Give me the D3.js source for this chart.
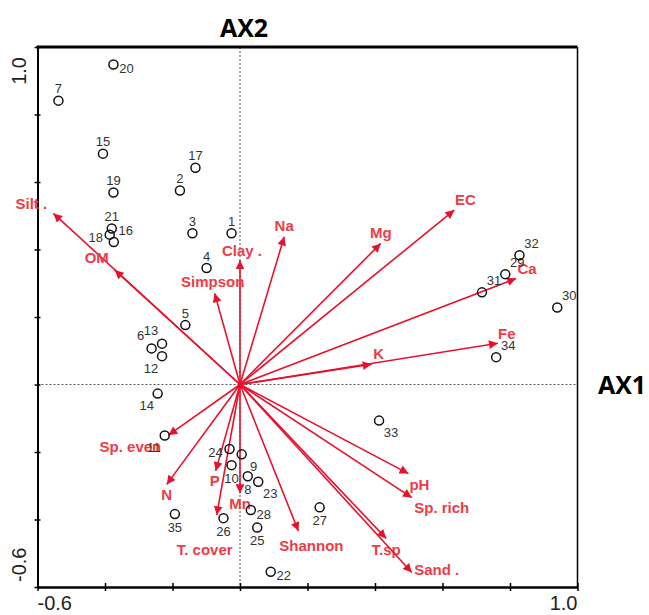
<!DOCTYPE html>
<html>
<head>
<meta charset="utf-8">
<script src="https://cdnjs.cloudflare.com/ajax/libs/d3/7.8.5/d3.min.js"></script>
<style>
  body { margin: 0; background: #fff; }
  .site circle { fill: none; stroke: #111; stroke-width: 1.5px; }
  .site text { font: 13px "Liberation Sans", Arial, sans-serif; fill: #333; }
  .vec line { stroke: #e8112d; stroke-width: 1.6px; }
  .vec text { font: bold 15px "Liberation Sans", Arial, sans-serif; fill: #ee3b45; }
  .zero { stroke: #555; stroke-width: 1px; stroke-dasharray: 2,2; }
  .ticklab { font: 20px "Liberation Sans", Arial, sans-serif; fill: #222; }
  .axtitle { font: bold 25px "Open Sans", "Liberation Sans", sans-serif; fill: #000; }
</style>
</head>
<body>
<script>
// site scores (AX1, AX2)
var siteIds = d3.range(1, 36);
var siteAx1 = [-0.025, -0.178, -0.141, -0.099, -0.162, -0.262, -0.538, 0.023, 0.005, -0.025,
               -0.223, -0.231, -0.231, -0.244, -0.406, -0.374, -0.132, -0.386, -0.375, -0.375,
               -0.380, 0.091, 0.054, -0.031, 0.051, -0.049, 0.236, 0.032, 0.786, 0.940,
               0.717, 0.828, 0.412, 0.759, -0.193];
var siteAx2 = [0.448, 0.575, 0.448, 0.345, 0.176, 0.107, 0.841, -0.272, -0.207, -0.239,
               -0.151, 0.084, 0.121, -0.027, 0.684, 0.422, 0.642, 0.444, 0.569, 0.948,
               0.462, -0.555, -0.288, -0.191, -0.424, -0.396, -0.364, -0.372, 0.327, 0.228,
               0.273, 0.383, -0.107, 0.081, -0.384];

// environmental / diversity variables (arrow tips)
var varNames = ["Silt .", "OM", "Clay .", "Simpson", "Na", "Mg", "EC", "Ca", "Fe", "K",
                "Sp. even", "N", "P", "T. cover", "Mn", "Shannon", "T.sp", "Sand .", "pH", "Sp. rich"];
var varAx1 = [-0.553, -0.371, 0.000, -0.075, 0.131, 0.417, 0.635, 0.818, 0.764, 0.390,
              -0.212, -0.217, -0.072, -0.069, 0.000, 0.173, 0.433, 0.509, 0.499, 0.509];
var varAx2 = [0.507, 0.339, 0.368, 0.270, 0.438, 0.418, 0.517, 0.314, 0.122, 0.060,
              -0.150, -0.296, -0.256, -0.387, -0.322, -0.434, -0.456, -0.557, -0.264, -0.335];

// label placement (layout only)
var sitePos = ["N","N","N","N","N","NW","N","S","SE","S",
               "SW","SW","NW","SW","N","NE","N","W","N","E",
               "N","E","SE","W","S","S","S","E","NE","NE",
               "NE","NE","SE","NE","S"];
var varNudge = [[-22,-10],[-18,-12],[2,-10],[-2,-12],[0,-11],[0,-11],[11,-10],[11,-10],[9,-10],[7,-11],
                [-38,12],[0,10],[-1,10],[-12,35],[0,11],[13,15],[0,11],[25,-3],[11,11],[30,10]];
var posOff = {N:[0,-12], S:[0,13], E:[13,4], W:[-14,3], NE:[12,-12], NW:[-11,-13], SE:[12,12], SW:[-11,12]};

var W = 649, H = 615;
var x = d3.scaleLinear().domain([-0.6, 1.0]).range([37.5, 577.5]);
var y = d3.scaleLinear().domain([-0.6, 1.0]).range([587, 47]);

var svg = d3.select("body").append("svg").attr("width", W).attr("height", H);

svg.append("defs").append("marker")
    .attr("id", "head").attr("viewBox", "0 0 10 10")
    .attr("refX", 10).attr("refY", 5)
    .attr("markerWidth", 6).attr("markerHeight", 5.5)
    .attr("markerUnits", "strokeWidth")
    .attr("orient", "auto")
  .append("path").attr("d", "M0,0L10,5L0,10z").attr("fill", "#e8112d");

// zero lines
svg.append("line").attr("class", "zero")
    .attr("x1", x(0)).attr("x2", x(0)).attr("y1", y(1)).attr("y2", y(-0.6));
svg.append("line").attr("class", "zero")
    .attr("x1", x(-0.6)).attr("x2", x(1)).attr("y1", y(0)).attr("y2", y(0));

// frame + axes
var tv = d3.range(-0.6, 1.01, 0.2);
svg.append("g").attr("transform", "translate(0," + y(-0.6) + ")")
    .call(d3.axisBottom(x).tickValues(tv).tickSizeInner(4).tickSizeOuter(0).tickFormat(""))
    .call(function(g) {
      g.select(".domain").attr("stroke-width", 2.5);
      g.selectAll(".tick line").attr("y1", -4).attr("stroke-width", 1.5);
    });
svg.append("g").attr("transform", "translate(" + x(-0.6) + ",0)")
    .call(d3.axisLeft(y).tickValues(tv).tickSizeInner(3).tickSizeOuter(0).tickFormat(""))
    .call(function(g) {
      g.select(".domain").attr("stroke-width", 2);
      g.selectAll(".tick line").attr("x2", 3).attr("x1", -3).attr("stroke-width", 1.5);
    });
svg.append("line").attr("x1", x(-0.6) - 1).attr("x2", x(1)).attr("y1", y(1)).attr("y2", y(1))
    .attr("stroke", "#000").attr("stroke-width", 3);
svg.append("line").attr("x1", x(1)).attr("x2", x(1)).attr("y1", y(1)).attr("y2", y(-0.6))
    .attr("stroke", "#000").attr("stroke-width", 1.5);

// tick labels
svg.append("text").attr("class", "ticklab").attr("x", x(-0.6)).attr("y", 610).text("-0.6");
svg.append("text").attr("class", "ticklab").attr("x", x(1)).attr("y", 610)
    .attr("text-anchor", "end").text("1.0");
svg.append("text").attr("class", "ticklab").attr("text-anchor", "end")
    .attr("transform", "translate(26," + (y(1) + 10) + ") rotate(-90)").text("1.0");
svg.append("text").attr("class", "ticklab").attr("text-anchor", "start")
    .attr("transform", "translate(26," + (y(-0.6) - 5) + ") rotate(-90)").text("-0.6");

svg.append("text").attr("class", "axtitle").attr("x", x(0) + 4).attr("y", 37)
    .attr("text-anchor", "middle").text("AX2");
svg.append("text").attr("class", "axtitle").attr("x", 622).attr("y", y(0) + 9)
    .attr("text-anchor", "middle").text("AX1");

// arrows
var vars = varNames.map(function(n, i) { return {name: n, a: varAx1[i], b: varAx2[i], nd: varNudge[i]}; });
var vec = svg.append("g").selectAll("g").data(vars).enter().append("g").attr("class", "vec");
vec.append("line")
    .attr("x1", x(0)).attr("y1", y(0))
    .attr("x2", function(d) { return x(d.a); })
    .attr("y2", function(d) { return y(d.b); })
    .attr("marker-end", "url(#head)");
vec.append("text")
    .attr("x", function(d) { return x(d.a) + d.nd[0]; })
    .attr("y", function(d) { return y(d.b) + d.nd[1]; })
    .attr("text-anchor", "middle").attr("dy", "0.35em")
    .text(function(d) { return d.name; });

// sites
var sites = siteIds.map(function(id, i) { return {id: id, a: siteAx1[i], b: siteAx2[i], p: sitePos[i]}; });
var st = svg.append("g").selectAll("g").data(sites).enter().append("g").attr("class", "site")
    .attr("transform", function(d) { return "translate(" + x(d.a) + "," + y(d.b) + ")"; });
st.append("circle").attr("r", 4.5);
st.append("text")
    .attr("x", function(d) { return posOff[d.p][0]; })
    .attr("y", function(d) { return posOff[d.p][1]; })
    .attr("dy", "0.35em")
    .attr("text-anchor", "middle")
    .text(function(d) { return d.id; });
</script>
</body>
</html>
